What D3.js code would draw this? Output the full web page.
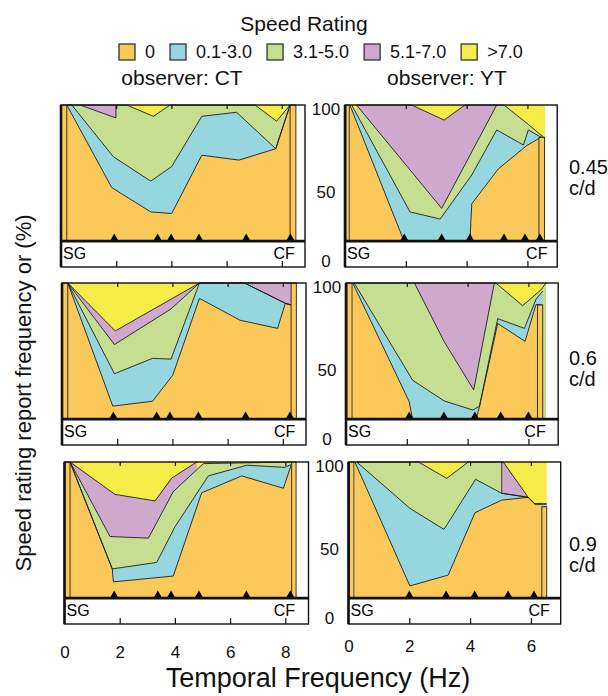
<!DOCTYPE html>
<html>
<head>
<meta charset="utf-8">
<script src="https://cdn.jsdelivr.net/npm/d3@7"></script>
<style>
  body { margin: 0; background: #fff; }
  svg { font-family: "Liberation Sans", Arial, sans-serif; }
</style>
</head>
<body>
<svg width="608" height="696"></svg>
<script>
const categories = ["0", "0.1-3.0", "3.1-5.0", "5.1-7.0", ">7.0"]
const colors = ["#FBC85A", "#96D6DE", "#C5DE8F", "#CFA8CE", "#F5EC48"]
const observers = ["observer: CT", "observer: YT"]
const spatialFreqs = ["0.45", "0.6", "0.9"]
const xTicksCT = [0, 2, 4, 6, 8]
const xTicksYT = [0, 2, 4, 6]
const yTicks = [0, 50, 100]

// upper edge of each band [Hz, %], legend order; ">7.0" fills up to 100
const ct045 = [
  [[0.21, 100], [1.84, 49], [3.25, 34], [4.01, 33], [5.1, 69], [6.45, 66], [7.78, 73], [8.3, 100]],
  [[0.21, 100], [0.39, 100], [1.9, 68], [3.25, 53], [4.01, 62], [5.1, 93], [6.36, 95.5], [7.78, 73], [8.3, 100]],
  [[0.21, 100], [0.69, 100], [1.99, 92], [1.99, 100], [2.38, 100], [3.35, 93], [3.95, 100], [7.03, 100], [7.81, 90], [8.3, 100]],
  [[0.69, 100], [1.99, 100]]
]
const ct06 = [
  [[0.21, 100], [1.84, 24], [3.28, 27], [4.01, 43], [4.98, 90.5], [6.45, 77], [7.81, 72], [8.09, 87.5], [8.3, 86.4]],
  [[0.21, 100], [1.9, 44], [3.28, 53.5], [3.95, 53], [4.98, 100], [6.61, 100], [8.09, 87.5], [8.3, 86.4]],
  [[0.21, 100], [1.9, 62], [3.95, 84], [4.98, 100], [6.61, 100], [8.09, 87.5], [8.3, 86.4]],
  [[0.21, 100], [1.93, 70.4], [4.98, 100], null, [6.61, 100], [8.3, 100]]
]
const ct09 = [
  [[0.2, 100], [1.73, 34], [1.77, 26], [3.94, 29.6], [4.97, 81], [6.42, 91.4], [7.93, 83.8], [8.21, 98]],
  [[0.2, 100], [1.73, 34], [3.34, 38], [4.0, 60], [5.21, 91.4], [6.6, 98], [7.99, 96.7], [8.21, 98.5]],
  [[0.2, 100], [1.65, 54], [3.04, 53], [3.94, 81.7], [5.03, 99], [8.21, 100]],
  [[0.2, 100], [1.83, 80], [3.28, 76], [3.88, 90], [4.79, 100]]
]
const yt045 = [
  [[0.16, 100], [1.94, 16], [4.11, 16], [4.17, 39], [5.04, 60.5], [5.98, 75], [6.39, 79.4], [6.58, 79.4]],
  [[0.22, 100], [2.14, 34], [3.13, 29.6], [4.17, 56.8], [4.99, 84.6], [5.87, 75.3], [6.03, 84.6], [6.41, 80.5], [6.58, 79.4]],
  [[0.38, 100], [3.18, 36.2], [4.99, 100], [5.23, 100], [6.03, 88], [6.41, 82], [6.58, 79.4]],
  [[0.38, 100], [2.19, 100], [3.26, 90.7], [3.95, 100], [4.99, 100]]
]
const yt06 = [
  [[0.22, 100], [2.08, 26.7], [2.19, 16], [4.28, 16], [4.39, 23.6], [4.99, 75], [5.89, 64], [6.25, 86.8], [6.47, 86.4]],
  [[0.27, 100], [2.19, 40], [3.23, 27.2], [4.17, 21.6], [4.39, 24], [4.99, 78], [5.87, 72], [6.25, 90], [6.47, 95]],
  [[0.27, 100], [2.25, 100], [3.23, 63.8], [4.2, 34], [4.88, 100], [4.93, 100], [5.81, 86], [6.41, 95.7], [6.58, 100]],
  [[2.25, 100], [4.88, 100]]
]
const yt09 = [
  [[0.21, 100], [2.02, 23.5], [3.28, 30.2], [4.16, 68.7], [5.04, 76.5], [5.91, 78.2], [6.13, 74.1], [6.36, 74.1]],
  [[0.27, 100], [2.02, 71.4], [3.14, 58.4], [4.18, 89.3], [5.04, 80.7], [5.91, 78.2], [6.13, 74.1], [6.52, 74.1]],
  [[0.27, 100], [2.3, 100], [3.23, 89.9], [3.94, 100], [5.04, 100], [5.04, 80.7], [5.91, 78.2], [6.13, 74.1], [6.52, 74.1]],
  [[5.04, 100], [5.09, 100], [5.91, 78.2]]
]

// SG and CF bars: [from Hz, to Hz, % rated 0]
const ct045Bars = [[0, 0.21, 100], [8.3, 8.51, 100]]
const ct06Bars = [[0, 0.21, 100], [8.3, 8.49, 100]]
const ct09Bars = [[0, 0.2, 100], [8.23, 8.39, 100]]
const yt045Bars = [[0.03, 0.14, 100], [6.38, 6.56, 80]]
const yt06Bars = [[0.03, 0.2, 100], [6.3, 6.47, 86.4]]
const yt09Bars = [[0.03, 0.18, 100], [6.36, 6.52, 72.4]]

// tested temporal frequencies (triangles)
const ct045Tf = [1.93, 3.5, 3.99, 5.0, 6.71, 8.31]
const ct06Tf = [1.86, 3.43, 3.91, 4.94, 6.65, 8.26]
const ct09Tf = [1.8, 3.38, 3.86, 4.87, 6.59, 8.18]
const yt045Tf = [1.95, 3.18, 4.11, 5.23, 5.92, 6.41]
const yt06Tf = [2.08, 3.22, 4.24, 5.09, 6.0]
const yt09Tf = [2.0, 3.21, 4.15, 5.25, 6.1]

const svg = d3.select("svg")

const rowTop = [105, 283, 462]
const rowShift = [0, 1, 3.5]
const panelH = 162
const baseline = 16

const xCT = d3.scaleLinear().domain([0, 8.84]).range([61, 305])
const xYT = d3.scaleLinear().domain([0, 6.98]).range([345, 557.2])

const panels = [
  { row: 0, col: 0, bands: ct045, bars: ct045Bars, tf: ct045Tf },
  { row: 0, col: 1, bands: yt045, bars: yt045Bars, tf: yt045Tf },
  { row: 1, col: 0, bands: ct06, bars: ct06Bars, tf: ct06Tf },
  { row: 1, col: 1, bands: yt06, bars: yt06Bars, tf: yt06Tf },
  { row: 2, col: 0, bands: ct09, bars: ct09Bars, tf: ct09Tf },
  { row: 2, col: 1, bands: yt09, bars: yt09Bars, tf: yt09Tf }
]

const drawPanel = (p) => {
  const x = p.col === 0 ? xCT : xYT
  const xTicks = p.col === 0 ? xTicksCT : xTicksYT
  const top = rowTop[p.row]
  const y = d3.scaleLinear().domain([0, 100]).range([top + panelH, top])
  const g = svg.append("g").attr("transform", `translate(${rowShift[p.row]},0)`)

  const area = d3
    .area()
    .defined((d) => d)
    .x((d) => x(d[0]))
    .y0(y(baseline))
    .y1((d) => y(d[1]))
  const line = d3
    .line()
    .defined((d) => d)
    .x((d) => x(d[0]))
    .y((d) => y(d[1]))

  const pts = p.bands.flat().filter((d) => d)
  const start = d3.min(pts, (d) => d[0])
  const end = d3.max(pts, (d) => d[0])

  // fastest band underneath, slower bands painted on top
  g.append("path")
    .datum([[start, 100], [end, 100]])
    .attr("fill", colors[4])
    .attr("d", area)
  for (let i = p.bands.length - 1; i >= 0; i--) {
    g.append("path").datum(p.bands[i]).attr("fill", colors[i]).attr("d", area)
  }
  p.bands.forEach((b) => {
    g.append("path")
      .datum(b)
      .attr("fill", "none")
      .attr("stroke", "#1e1e1e")
      .attr("stroke-width", 0.9)
      .attr("stroke-linejoin", "round")
      .attr("d", line)
  })

  // SG / CF bars
  g.selectAll(".bar")
    .data(p.bars)
    .join("rect")
    .attr("x", (d) => x(d[0]))
    .attr("width", (d) => x(d[1]) - x(d[0]))
    .attr("y", (d) => y(d[2]))
    .attr("height", (d) => y(baseline) - y(d[2]))
    .attr("fill", colors[0])
    .attr("stroke", "#222")
    .attr("stroke-width", 0.9)

  const x0 = x.range()[0]
  const x1 = x.range()[1]

  // frame
  g.append("rect")
    .attr("x", x0)
    .attr("y", top)
    .attr("width", x1 - x0)
    .attr("height", panelH)
    .attr("fill", "none")
    .attr("stroke", "#111")
    .attr("stroke-width", 1.4)
  g.append("line")
    .attr("x1", x0).attr("x2", x0)
    .attr("y1", top).attr("y2", top + panelH)
    .attr("stroke", "#111")
    .attr("stroke-width", 2.6)
  g.append("line")
    .attr("x1", x0).attr("x2", x1)
    .attr("y1", y(baseline)).attr("y2", y(baseline))
    .attr("stroke", "#111")
    .attr("stroke-width", 2.6)

  // inward ticks, top and bottom
  const topAxis = g
    .append("g")
    .attr("transform", `translate(0,${top})`)
    .call(d3.axisTop(x).tickValues(xTicks.slice(1)).tickSize(-4).tickFormat(""))
  topAxis.select(".domain").remove()
  const botAxis = g
    .append("g")
    .attr("transform", `translate(0,${top + panelH})`)
    .call(d3.axisBottom(x).tickValues(xTicks.slice(1)).tickSize(-6).tickFormat(""))
  botAxis.select(".domain").remove()
  g.selectAll(".tick line").attr("stroke", "#111").attr("stroke-width", 1.2)

  // tested frequencies
  g.selectAll(".tf")
    .data(p.tf)
    .join("path")
    .attr("d", d3.symbol().type(d3.symbolTriangle).size(24))
    .attr("transform", (d) => `translate(${x(d)},${y(baseline) - 3.2})`)
    .attr("fill", "#000")

  g.append("text")
    .attr("x", x0 + 2)
    .attr("y", top + panelH - 8)
    .attr("font-size", 16)
    .text("SG")
  const cf = p.bars[p.bars.length - 1]
  g.append("text")
    .attr("x", x(cf[1]) + (p.col === 0 ? -1 : 3))
    .attr("y", top + panelH - 8)
    .attr("text-anchor", "end")
    .attr("font-size", 16)
    .text("CF")

  if (p.col === 1) {
    const yOffset = { 100: 4, 50: 6, 0: -6 }
    const yAxisG = g
      .append("g")
      .attr("transform", `translate(${x0},0)`)
      .call(d3.axisLeft(y).tickValues(yTicks).tickSize(0))
    yAxisG.select(".domain").remove()
    yAxisG
      .selectAll("text")
      .attr("x", 326 - x0)
      .attr("text-anchor", "middle")
      .attr("font-size", 17)
      .attr("font-family", "Liberation Sans, Arial, sans-serif")
      .attr("dy", (d) => `${0.35 * 17 + yOffset[d]}px`)
      .attr("fill", "#111")
  }

  if (p.row === 2) {
    const labelAxis = g
      .append("g")
      .attr("transform", `translate(0,${top + panelH})`)
      .call(
        d3
          .axisBottom(x)
          .tickValues(xTicks)
          .tickSize(0)
          .tickPadding(p.col === 0 ? 22 : 16)
          .tickFormat(d3.format("d"))
      )
    labelAxis.select(".domain").remove()
    labelAxis
      .selectAll("text")
      .attr("font-size", 17)
      .attr("font-family", "Liberation Sans, Arial, sans-serif")
      .attr("fill", "#111")
  }
}

panels.forEach(drawPanel)

// spatial frequency labels
const sfY = [174, 365, 551]
spatialFreqs.forEach((s, i) => {
  const t = svg
    .append("text")
    .attr("x", 569)
    .attr("y", sfY[i])
    .attr("font-size", 20)
    .attr("fill", "#111")
  t.append("tspan").attr("x", 569).text(s)
  t.append("tspan").attr("x", 569).attr("dy", 21).text("c/d")
})

// legend
svg
  .append("text")
  .attr("x", 304)
  .attr("y", 31)
  .attr("text-anchor", "middle")
  .attr("font-size", 21)
  .attr("fill", "#111")
  .text("Speed Rating")

let lx = 119
categories.forEach((c, i) => {
  svg
    .append("rect")
    .attr("x", lx)
    .attr("y", 44)
    .attr("width", 16)
    .attr("height", 16)
    .attr("fill", colors[i])
    .attr("stroke", "#333")
    .attr("stroke-width", 1.3)
  const t = svg
    .append("text")
    .attr("x", lx + 26)
    .attr("y", 58)
    .attr("font-size", 18)
    .attr("fill", "#111")
    .text(c)
  lx += 26 + t.node().getComputedTextLength() + 15
})

observers.forEach((o, i) => {
  svg
    .append("text")
    .attr("x", i === 0 ? 182 : 447)
    .attr("y", 85)
    .attr("text-anchor", "middle")
    .attr("font-size", 21)
    .attr("fill", "#111")
    .text(o)
})

// axis titles
svg
  .append("text")
  .attr("x", 318)
  .attr("y", 687)
  .attr("text-anchor", "middle")
  .attr("font-size", 27)
  .attr("fill", "#111")
  .text("Temporal Frequency (Hz)")

svg
  .append("text")
  .attr("transform", "translate(31,393) rotate(-90)")
  .attr("text-anchor", "middle")
  .attr("font-size", 22)
  .attr("fill", "#111")
  .text("Speed rating report frequency or (%)")
</script>
</body>
</html>
